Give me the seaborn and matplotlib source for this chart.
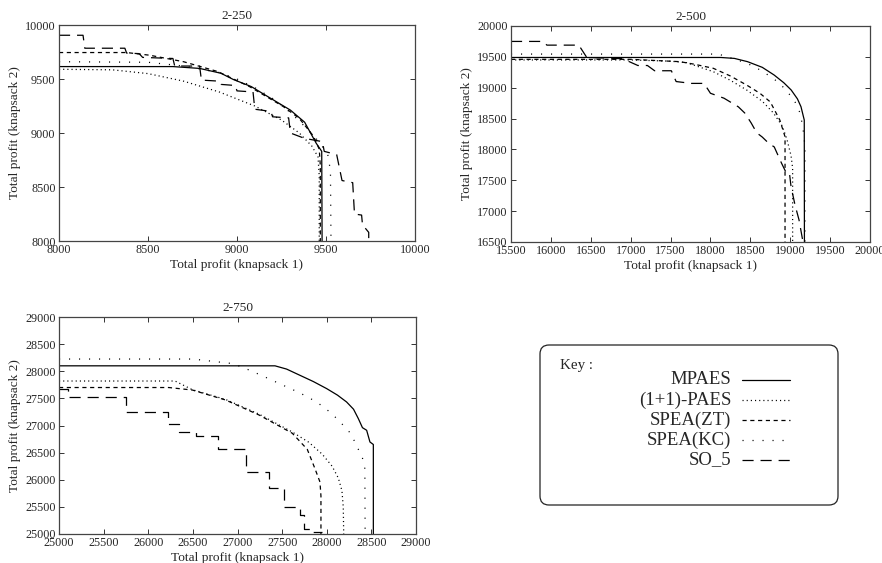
import matplotlib
matplotlib.use("Agg")
import matplotlib.pyplot as plt
import seaborn as sns
from matplotlib.lines import Line2D
from matplotlib.patches import FancyBboxPatch

# ---------------- data ----------------
series_names = ["MPAES", "(1+1)-PAES", "SPEA(ZT)", "SPEA(KC)", "SO_5"]
panel_titles = ["2-250", "2-500", "2-750"]

# 2-250
p250_mpaes_x = [8000, 8640, 8790, 8910, 8980, 9080, 9170, 9300, 9380, 9445, 9476, 9478]
p250_mpaes_y = [9615, 9615, 9598, 9553, 9495, 9430, 9340, 9212, 9100, 8905, 8830, 8000]
p250_paes_x = [8000, 8300, 8500, 8700, 8900, 9100, 9250, 9350, 9420, 9455, 9462, 9462]
p250_paes_y = [9590, 9585, 9550, 9480, 9380, 9250, 9120, 9000, 8880, 8780, 8600, 8000]
p250_zt_x = [8000, 8380, 8510, 8700, 8890, 9070, 9260, 9350, 9430, 9462, 9468, 9468]
p250_zt_y = [9745, 9745, 9720, 9660, 9570, 9430, 9245, 9135, 8970, 8850, 8700, 8000]
p250_kc_x = [8000, 8500, 8700, 8900, 9000, 9100, 9200, 9300, 9400, 9470, 9510, 9525, 9528]
p250_kc_y = [9660, 9655, 9620, 9560, 9500, 9420, 9320, 9190, 9030, 8900, 8800, 8650, 8000]
p250_so5_x = [8000, 8135, 8145, 8370, 8380, 8450, 8470, 8640, 8650, 8790, 8800, 8900, 8910,
              8990, 9000, 9090, 9100, 9190, 9200, 9290, 9300, 9380, 9480, 9490, 9560, 9590,
              9650, 9660, 9700, 9705, 9740, 9740]
p250_so5_y = [9905, 9905, 9785, 9785, 9740, 9735, 9700, 9690, 9620, 9620, 9490, 9480, 9450,
              9440, 9390, 9380, 9220, 9200, 9150, 9140, 9000, 8950, 8920, 8830, 8800, 8560,
              8540, 8250, 8240, 8150, 8080, 8000]

# 2-500
p500_mpaes_x = [15500, 18130, 18300, 18465, 18650, 18798, 18920, 19012, 19090, 19135, 19176, 19178]
p500_mpaes_y = [19490, 19490, 19475, 19422, 19330, 19206, 19080, 18963, 18820, 18692, 18476, 16500]
p500_paes_x = [15500, 17000, 17500, 17700, 18035, 18250, 18454, 18650, 18790, 18900, 18960, 19010, 19030, 19030]
p500_paes_y = [19450, 19450, 19430, 19406, 19260, 19120, 18963, 18780, 18590, 18380, 18158, 17900, 17700, 16500]
p500_zt_x = [15500, 17000, 17618, 17800, 18035, 18250, 18454, 18620, 18750, 18870, 18935, 18935]
p500_zt_y = [19460, 19460, 19422, 19380, 19315, 19190, 19043, 18910, 18770, 18475, 18205, 16500]
p500_kc_x = [15500, 18100, 18454, 18620, 18790, 18920, 19050, 19120, 19150, 19175, 19185, 19185]
p500_kc_y = [19545, 19545, 19400, 19290, 19150, 19000, 18800, 18600, 18420, 18200, 18000, 16500]
p500_so5_x = [15500, 15900, 15950, 16350, 16450, 16900, 17090, 17210, 17300, 17510, 17570, 17760,
              17920, 18000, 18170, 18350, 18430, 18510, 18580, 18650, 18730, 18800, 18890, 18950,
              18990, 19010, 19060, 19110, 19160]
p500_so5_y = [19750, 19750, 19690, 19690, 19490, 19470, 19360, 19360, 19275, 19275, 19100, 19070,
              19070, 18910, 18830, 18690, 18590, 18430, 18270, 18200, 18100, 18040, 17780, 17620,
              17620, 17400, 17100, 16860, 16500]

# 2-750
p750_mpaes_x = [25000, 27420, 27550, 27700, 27850, 27999, 28120, 28222, 28300, 28354, 28400, 28447, 28484, 28522, 28522]
p750_mpaes_y = [28100, 28100, 28040, 27925, 27810, 27680, 27560, 27434, 27300, 27127, 26960, 26912, 26696, 26650, 25000]
p750_paes_x = [25000, 26300, 26494, 26867, 27241, 27614, 27800, 27950, 28060, 28130, 28170, 28185, 28190]
p750_paes_y = [27820, 27820, 27660, 27480, 27210, 26880, 26690, 26470, 26250, 26030, 25800, 25500, 25000]
p750_zt_x = [25000, 26230, 26494, 26867, 27241, 27614, 27782, 27868, 27924, 27935, 27935]
p750_zt_y = [27700, 27700, 27654, 27470, 27194, 26857, 26560, 26204, 25959, 25700, 25000]
p750_kc_x = [25000, 26500, 26953, 27140, 27300, 27513, 27700, 27887, 28050, 28185, 28270, 28334, 28400, 28427, 28430]
p750_kc_y = [28225, 28225, 28140, 28016, 27900, 27740, 27600, 27434, 27230, 27004, 26850, 26630, 26400, 26204, 25000]
p750_so5_x = [25000, 25100, 25100, 25750, 25750, 26220, 26220, 26340, 26340, 26540, 26540, 26780,
              26780, 27100, 27100, 27350, 27350, 27520, 27520, 27700, 27700, 27740, 27740, 27850,
              27850, 27950]
p750_so5_y = [27680, 27680, 27520, 27520, 27240, 27240, 27030, 27030, 26880, 26880, 26800, 26800,
              26560, 26560, 26140, 26140, 25850, 25850, 25490, 25490, 25350, 25350, 25100, 25100,
              25030, 25030]

# axis ranges / ticks
p250_xticks = [8000, 8500, 9000, 9500, 10000]
p250_yticks = [8000, 8500, 9000, 9500, 10000]
p500_xticks = [15500, 16000, 16500, 17000, 17500, 18000, 18500, 19000, 19500, 20000]
p500_yticks = [16500, 17000, 17500, 18000, 18500, 19000, 19500, 20000]
p750_xticks = [25000, 25500, 26000, 26500, 27000, 27500, 28000, 28500, 29000]
p750_yticks = [25000, 25500, 26000, 26500, 27000, 27500, 28000, 28500, 29000]

# ---------------- style ----------------
sns.set_theme(style="ticks")
plt.rcParams["font.family"] = ["Liberation Serif", "DejaVu Serif"]
plt.rcParams["lines.scale_dashes"] = False
plt.rcParams["xtick.direction"] = "in"
plt.rcParams["ytick.direction"] = "in"
plt.rcParams["xtick.top"] = True
plt.rcParams["ytick.right"] = True

styles = {
    "MPAES": "-",
    "(1+1)-PAES": (0, (0.8, 2.2)),
    "SPEA(ZT)": (0, (3.0, 2.6)),
    "SPEA(KC)": (0, (0.8, 6.4)),
    "SO_5": (0, (8.0, 5.0)),
}
LW = 0.9

W, H = 882, 563
fig = plt.figure(figsize=(W / 100, H / 100), dpi=100)


def px_axes(l, t, r, b):
    return fig.add_axes([l / W, 1 - b / H, (r - l) / W, (b - t) / H])


ax1 = px_axes(59, 25, 415, 241)
ax2 = px_axes(511, 26, 870, 242)
ax3 = px_axes(59, 317, 416, 534)

panels = [
    (ax1, panel_titles[0], [(p250_mpaes_x, p250_mpaes_y), (p250_paes_x, p250_paes_y),
                            (p250_zt_x, p250_zt_y), (p250_kc_x, p250_kc_y), (p250_so5_x, p250_so5_y)],
     p250_xticks, p250_yticks),
    (ax2, panel_titles[1], [(p500_mpaes_x, p500_mpaes_y), (p500_paes_x, p500_paes_y),
                            (p500_zt_x, p500_zt_y), (p500_kc_x, p500_kc_y), (p500_so5_x, p500_so5_y)],
     p500_xticks, p500_yticks),
    (ax3, panel_titles[2], [(p750_mpaes_x, p750_mpaes_y), (p750_paes_x, p750_paes_y),
                            (p750_zt_x, p750_zt_y), (p750_kc_x, p750_kc_y), (p750_so5_x, p750_so5_y)],
     p750_xticks, p750_yticks),
]

for ax, title, data, xt, yt in panels:
    for name, (xs, ys) in zip(series_names, data):
        sns.lineplot(x=xs, y=ys, sort=False, estimator=None, ax=ax, color="black",
                     linewidth=LW, linestyle=styles[name])
    ax.set_xlim(xt[0], xt[-1])
    ax.set_ylim(yt[0], yt[-1])
    ax.set_xticks(xt)
    ax.set_yticks(yt)
    ax.tick_params(axis="both", which="major", labelsize=8.7, length=3.6, width=0.7,
                   color="#333333", pad=2.5)
    for s in ax.spines.values():
        s.set_linewidth(0.9)
        s.set_color("#444444")
    ax.set_title(title, fontsize=9.6, pad=4)
    ax.set_xlabel("Total profit (knapsack 1)", fontsize=9.6, labelpad=2)
    ax.set_ylabel("Total profit (knapsack 2)", fontsize=9.6, labelpad=3)

# ---------------- key box ----------------
box = FancyBboxPatch((540 / 100, (H - 505) / 100), 298 / 100, 160 / 100,
                     boxstyle="round,pad=0,rounding_size=0.09",
                     transform=fig.dpi_scale_trans, facecolor="white",
                     edgecolor="#222222", linewidth=0.9)
fig.add_artist(box)
fig.text(560 / W, 1 - 366 / H, "Key :", fontsize=10.8, ha="left", va="center")
row_y = [380, 400, 420, 440, 460]
for name, yy in zip(series_names, row_y):
    fig.text(731 / W, 1 - yy / H, name, fontsize=13.5, ha="right", va="center")
    fig.add_artist(Line2D([742 / W, 790 / W], [1 - yy / H, 1 - yy / H],
                          transform=fig.transFigure, color="black", linewidth=LW,
                          linestyle=styles[name]))

fig.savefig("out.png", dpi=100)
